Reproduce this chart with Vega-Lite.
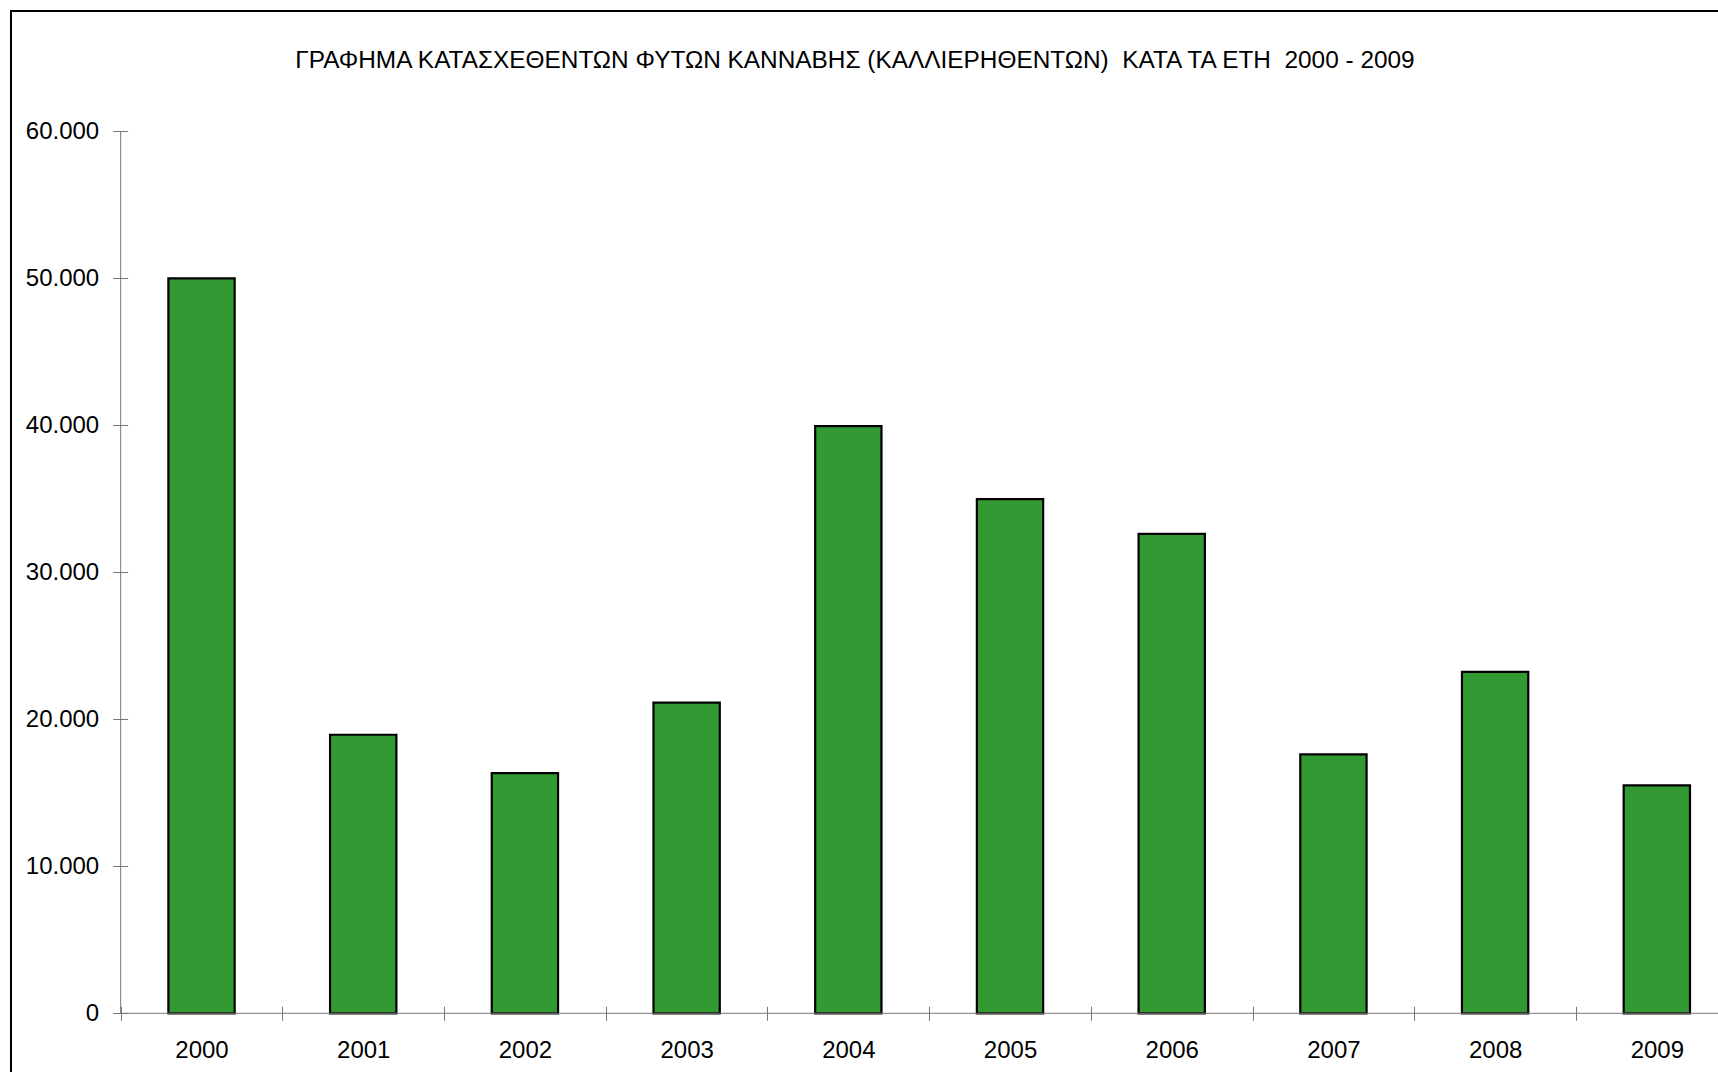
{
  "$schema": "https://vega.github.io/schema/vega-lite/v6.json",
  "autosize": {"type": "none"},
  "padding": {"left": 11, "top": 11, "right": -30, "bottom": -20},
  "width": 1737,
  "height": 1081,
  "background": "white",
  "title": {
    "text": "ΓΡΑΦΗΜΑ ΚΑΤΑΣΧΕΘΕΝΤΩΝ ΦΥΤΩΝ ΚΑΝΝΑΒΗΣ (ΚΑΛΛΙΕΡΗΘΕΝΤΩΝ)\u00a0 ΚΑΤΑ ΤΑ ΕΤΗ\u00a0 2000 - 2009",
    "anchor": "middle",
    "frame": "group",
    "offset": -62.5,
    "dx": -24.5,
    "fontSize": 24.4,
    "fontWeight": "normal",
    "font": "Liberation Sans",
    "color": "black"
  },
  "config": {
    "view": {"stroke": "black", "strokeWidth": 2},
    "font": "Liberation Sans"
  },
  "data": {
    "values": [
      {"year": "2000", "plants": 50000},
      {"year": "2001", "plants": 18950},
      {"year": "2002", "plants": 16340},
      {"year": "2003", "plants": 21130},
      {"year": "2004", "plants": 39950},
      {"year": "2005", "plants": 34980},
      {"year": "2006", "plants": 32620},
      {"year": "2007", "plants": 17610},
      {"year": "2008", "plants": 23220},
      {"year": "2009", "plants": 15500}
    ]
  },
  "layer": [
    {
      "mark": {"type": "bar", "width": {"band": 0.41}, "fill": "#339933", "stroke": "black", "strokeWidth": 2.2},
      "encoding": {
        "x": {
          "field": "year",
          "type": "ordinal",
          "scale": {"paddingInner": 0, "paddingOuter": 0.371, "align": 0.914, "round": false},
          "axis": {
            "title": null,
            "orient": "bottom",
            "offset": -85.7,
            "domain": false,
            "grid": false,
            "tickBand": "extent",
            "tickSize": 14,
            "tickColor": "#777",
            "tickWidth": 1,
            "labelAngle": 0,
            "labelFontSize": 24,
            "labelColor": "black",
            "labelPadding": 18,
            "labelFont": "Liberation Sans"
          }
        },
        "y": {
          "field": "plants",
          "type": "quantitative",
          "scale": {"domain": [-5354, 68184], "nice": false, "zero": false},
          "axis": {
            "title": null,
            "orient": "left",
            "offset": -116.7,
            "domain": false,
            "grid": false,
            "values": [0, 10000, 20000, 30000, 40000, 50000, 60000],
            "labelExpr": "replace(format(datum.value, ','), ',', '.')",
            "tickSize": 15,
            "tickColor": "#777",
            "tickWidth": 1,
            "labelFontSize": 24,
            "labelColor": "black",
            "labelPadding": 14,
            "labelFont": "Liberation Sans"
          }
        },
        "y2": {"datum": 0}
      }
    },
    {
      "data": {"values": [{}]},
      "mark": {"type": "rule", "color": "#777", "strokeWidth": 1},
      "encoding": {
        "x": {"datum": "2000", "type": "ordinal", "bandPosition": 0},
        "y": {"datum": 0, "type": "quantitative"},
        "y2": {"datum": 60000}
      }
    },
    {
      "data": {"values": [{}]},
      "mark": {"type": "rule", "color": "#777", "strokeWidth": 1},
      "encoding": {
        "x": {"datum": "2000", "type": "ordinal", "bandPosition": 0},
        "x2": {"datum": "2009", "bandPosition": 1},
        "y": {"datum": 0, "type": "quantitative"}
      }
    }
  ]
}
